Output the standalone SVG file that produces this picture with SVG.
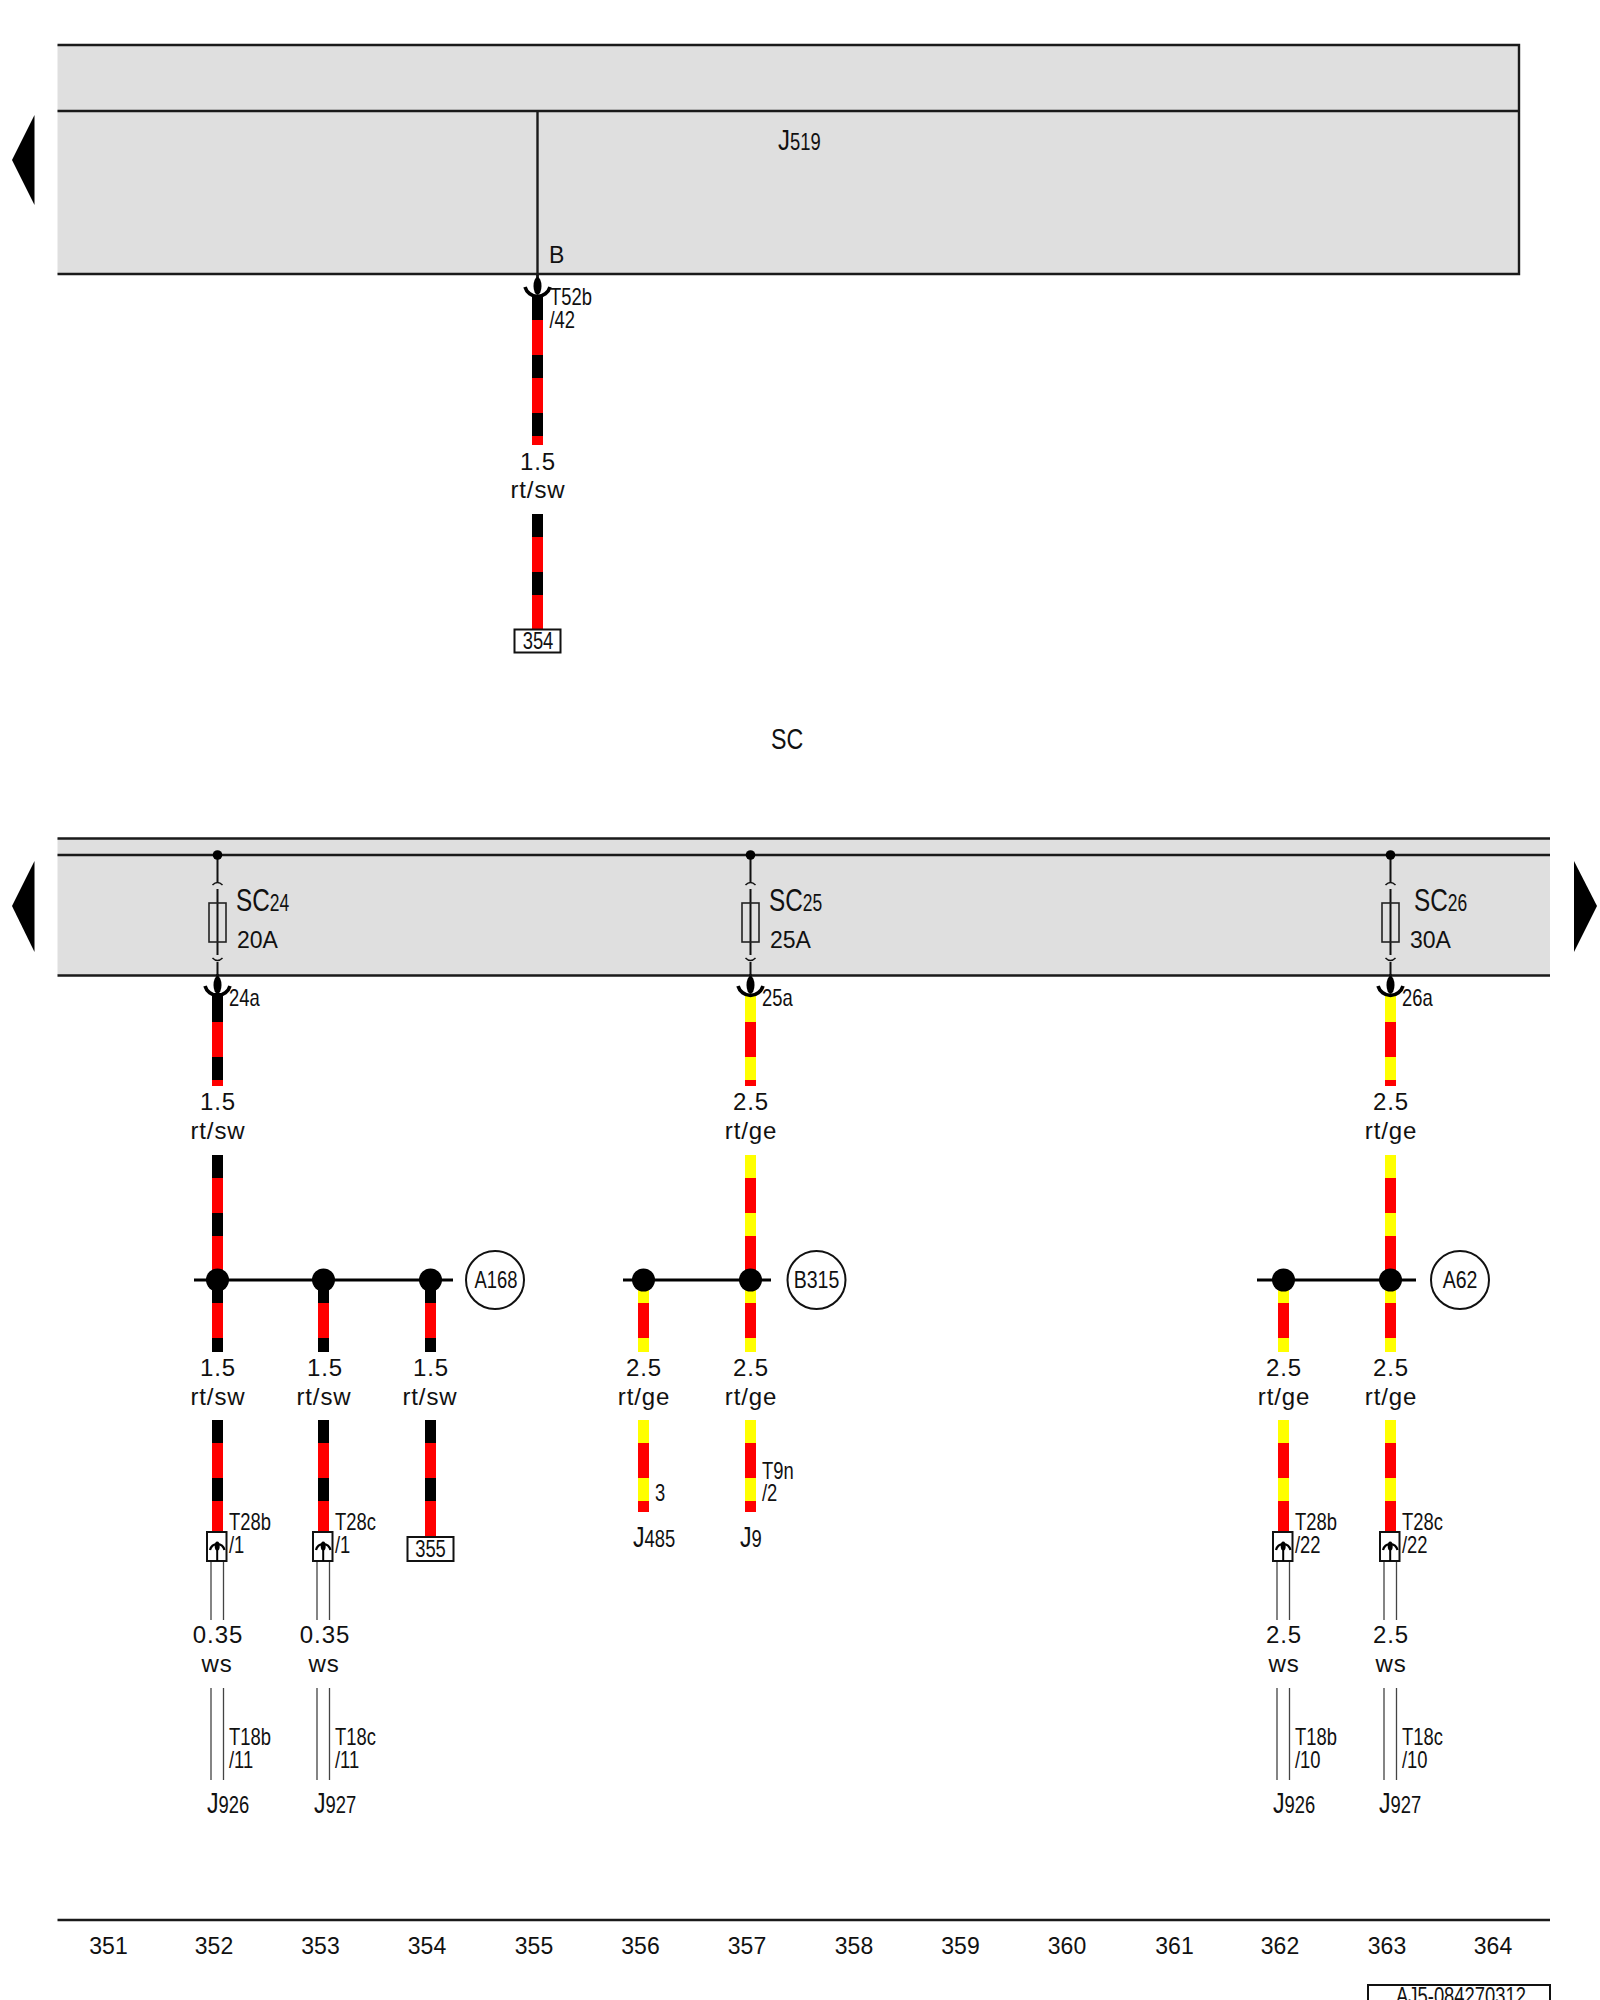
<svg xmlns="http://www.w3.org/2000/svg" xmlns:xlink="http://www.w3.org/1999/xlink" width="1600" height="2000" viewBox="0 0 1600 2000">
<style>
text{font-family:"Liberation Sans",Arial,sans-serif;fill:#111}
.lb{font-size:23px}
.gauge{font-size:24px;letter-spacing:.9px;text-anchor:middle}
.num{font-size:23px;text-anchor:middle}
.cd{font-size:23px}
.sub{font-size:23px}
.big{font-size:32px}
.ln{fill:none;stroke:#1a1a1a;stroke-width:2.4}
.panel{fill:#dfdfdf}
.thin{fill:none;stroke:#444;stroke-width:1.3}
.wire{fill:none;stroke-width:11}
.red{stroke:#f00}
.k{stroke:#000}
.y{stroke:#ff0}
.bx{fill:#fff;stroke:#111;stroke-width:2}
.jn{fill:#000}
.bus{fill:none;stroke:#000;stroke-width:3.2}
.tri{fill:#000}
</style>
<defs>
<g id="conn"><path d="M0 -12V0" fill="none" stroke="#111" stroke-width="2.4"/><ellipse cx="0" cy="-1" rx="4" ry="9" fill="#000"/><path d="M-12.500 0A13 13 0 0 0 12.500 0" fill="none" stroke="#000" stroke-width="3.600"/></g>
<g id="fuse"><path d="M0 857V882M0 889V955M0 962V976" fill="none" stroke="#111" stroke-width="2"/><path d="M-5 885Q0 880 5 885M-5 958Q0 963 5 958" fill="none" stroke="#111" stroke-width="1.5"/><circle cx="0" cy="855" r="4.800" fill="#000"/><rect x="-8.500" y="903" width="17" height="39" fill="none" stroke="#222" stroke-width="1.600"/></g>
<g id="pin"><rect x="-10.500" y="1532" width="19.500" height="29" class="bx"/><path d="M-7.500 1550A7.500 8 0 0 1 7 1550" fill="none" stroke="#000" stroke-width="2.200"/><ellipse cx="-.3" cy="1546" rx="2.500" ry="4.500" fill="#000"/><path d="M-.3 1548V1561" fill="none" stroke="#000" stroke-width="2"/></g>
<g id="thin"><path d="M-6.500 1561V1620M6 1561V1620M-6.500 1688V1780M6 1688V1780" class="thin"/></g>
</defs>

<rect class="panel" x="57.500" y="45" width="1461.500" height="229"/>
<rect class="panel" x="57.500" y="838" width="1492.500" height="137"/>
<polygon id="tri-top" class="tri" points="12,160 34.500,115 34.500,205"/>
<polygon id="tri-left" class="tri" points="12,906 34.500,861 34.500,952"/>
<polygon id="tri-right" class="tri" points="1597,906 1574,861 1574,952"/>

<g id="frames">
<path class="ln" d="M57.500 45H1519V274H57.500M57.500 111H1519"/>
<path class="ln" d="M57.500 838.500H1550M57.500 855H1550M57.500 975.500H1550"/>
<path class="ln" d="M57.500 1920H1550"/>
</g>

<g id="connectors">
<path d="M537.500 111V285" class="ln"/>
<path class="wire red" d="M537.500 298V445M537.500 514V630M217.500 995V1086M217.500 1155V1352M217.500 1420V1533M323.500 1280V1352M323.500 1420V1533M430.500 1280V1352M430.500 1420V1538M643.500 1280V1352M643.500 1420V1512M750.500 995V1086M750.500 1155V1352M750.500 1420V1512M1283.500 1280V1352M1283.500 1420V1533M1390.500 995V1086M1390.500 1155V1352M1390.500 1420V1533"/>
<path class="wire k" d="M537.500 296V320M537.500 355V378M537.500 413V436M537.500 514V537M537.500 572V595M217.500 993V1022M217.500 1057V1080M217.500 1155V1178M217.500 1213V1236M217.500 1280V1303M217.500 1338V1352M217.500 1420V1443M217.500 1478V1501M323.500 1280V1303M323.500 1338V1352M323.500 1420V1443M323.500 1478V1501M430.500 1280V1303M430.500 1338V1352M430.500 1420V1443M430.500 1478V1501"/>
<path class="wire y" d="M643.500 1280V1303M643.500 1338V1352M643.500 1420V1443M643.500 1478V1501M750.500 995V1022M750.500 1057V1080M750.500 1155V1178M750.500 1213V1236M750.500 1280V1303M750.500 1338V1352M750.500 1420V1443M750.500 1478V1501M1283.500 1280V1303M1283.500 1338V1352M1283.500 1420V1443M1283.500 1478V1501M1390.500 995V1022M1390.500 1057V1080M1390.500 1155V1178M1390.500 1213V1236M1390.500 1280V1303M1390.500 1338V1352M1390.500 1420V1443M1390.500 1478V1501"/>
<path class="bus" d="M194 1280H453M623 1280H771M1257 1280H1416"/>
<use xlink:href="#thin" href="#thin" x="217.500"/>
<use xlink:href="#thin" href="#thin" x="323.500"/>
<use xlink:href="#thin" href="#thin" x="1283.500"/>
<use xlink:href="#thin" href="#thin" x="1390.500"/>
</g>

<g id="J519"><text transform="translate(778,150) scale(.8,1)" style="font-size:30px">J<tspan class="sub">519</tspan></text></g>
<g id="pin-B"><use href="#conn" x="537.500" y="287"/><text class="lb" x="549" y="263">B</text></g>
<g id="T52b"><text class="cd" transform="translate(550,305) scale(.8,1)">T52b</text><text class="cd" transform="translate(549.500,328) scale(.8,1)">/42</text></g>
<g id="label-top1"><text class="gauge" x="538" y="470">1.5</text><text class="gauge" x="538" y="498">rt/sw</text></g>
<g id="ref-354"><rect class="bx" x="514.500" y="629.500" width="46" height="23"/><text class="num" transform="translate(538,649) scale(.8,1)">354</text></g>
<g id="SC-title"><text transform="translate(771,749) scale(.8,1)" style="font-size:29px">SC</text></g>

<g id="SC24"><use href="#fuse" x="217.500"/><use href="#conn" x="217.500" y="986"/><text transform="translate(236,911) scale(.76,1)" class="big">SC<tspan class="sub">24</tspan></text><text class="lb" x="237" y="948">20A</text><text class="cd" transform="translate(229,1006) scale(.8,1)">24a</text></g>
<g id="SC25"><use href="#fuse" x="750.500"/><use href="#conn" x="750.500" y="986"/><text transform="translate(769,911) scale(.76,1)" class="big">SC<tspan class="sub">25</tspan></text><text class="lb" x="770" y="948">25A</text><text class="cd" transform="translate(762,1006) scale(.8,1)">25a</text></g>
<g id="SC26"><use href="#fuse" x="1390.500"/><use href="#conn" x="1390.500" y="986"/><text transform="translate(1414,911) scale(.76,1)" class="big">SC<tspan class="sub">26</tspan></text><text class="lb" x="1410" y="948">30A</text><text class="cd" transform="translate(1402,1006) scale(.8,1)">26a</text></g>

<g id="labels-upper">
<text class="gauge" x="218" y="1110">1.5</text><text class="gauge" x="218" y="1139">rt/sw</text>
<text class="gauge" x="751" y="1110">2.5</text><text class="gauge" x="751" y="1139">rt/ge</text>
<text class="gauge" x="1391" y="1110">2.5</text><text class="gauge" x="1391" y="1139">rt/ge</text>
</g>

<g id="A168"><circle cx="217.500" cy="1280" r="11.500" class="jn"/><circle cx="323.500" cy="1280" r="11.500" class="jn"/><circle cx="430.500" cy="1280" r="11.500" class="jn"/><circle cx="495" cy="1280" r="29" class="bx"/><text class="num" transform="translate(496,1288) scale(.8,1)">A168</text></g>
<g id="B315"><circle cx="643.500" cy="1280" r="11.500" class="jn"/><circle cx="750.500" cy="1280" r="11.500" class="jn"/><circle cx="816.500" cy="1280" r="29" class="bx"/><text class="num" transform="translate(816.500,1288) scale(.85,1)">B315</text></g>
<g id="A62"><circle cx="1283.500" cy="1280" r="11.500" class="jn"/><circle cx="1390.500" cy="1280" r="11.500" class="jn"/><circle cx="1460" cy="1280" r="29" class="bx"/><text class="num" transform="translate(1460,1288) scale(.85,1)">A62</text></g>

<g id="labels-mid">
<text class="gauge" x="218" y="1376">1.5</text><text class="gauge" x="218" y="1405">rt/sw</text>
<text class="gauge" x="325" y="1376">1.5</text><text class="gauge" x="324" y="1405">rt/sw</text>
<text class="gauge" x="431" y="1376">1.5</text><text class="gauge" x="430" y="1405">rt/sw</text>
<text class="gauge" x="644" y="1376">2.5</text><text class="gauge" x="644" y="1405">rt/ge</text>
<text class="gauge" x="751" y="1376">2.5</text><text class="gauge" x="751" y="1405">rt/ge</text>
<text class="gauge" x="1284" y="1376">2.5</text><text class="gauge" x="1284" y="1405">rt/ge</text>
<text class="gauge" x="1391" y="1376">2.5</text><text class="gauge" x="1391" y="1405">rt/ge</text>
</g>

<g id="T28b-1"><use href="#pin" x="217.500"/><text class="cd" transform="translate(229,1530) scale(.8,1)">T28b</text><text class="cd" transform="translate(229,1553) scale(.8,1)">/1</text></g>
<g id="T28c-1"><use href="#pin" x="323.500"/><text class="cd" transform="translate(335,1530) scale(.8,1)">T28c</text><text class="cd" transform="translate(335,1553) scale(.8,1)">/1</text></g>
<g id="ref-355"><rect class="bx" x="407.500" y="1537" width="46" height="24"/><text class="num" transform="translate(430.500,1557) scale(.8,1)">355</text></g>
<g id="pin-3"><text class="cd" transform="translate(655,1501) scale(.8,1)">3</text></g>
<g id="T9n"><text class="cd" transform="translate(762,1479) scale(.8,1)">T9n</text><text class="cd" transform="translate(762,1501) scale(.8,1)">/2</text></g>
<g id="J485"><text transform="translate(633,1547) scale(.8,1)" style="font-size:29px">J<tspan class="sub">485</tspan></text></g>
<g id="J9"><text transform="translate(740,1547) scale(.8,1)" style="font-size:29px">J<tspan class="sub">9</tspan></text></g>
<g id="T28b-22"><use href="#pin" x="1283.500"/><text class="cd" transform="translate(1295,1530) scale(.8,1)">T28b</text><text class="cd" transform="translate(1295,1553) scale(.8,1)">/22</text></g>
<g id="T28c-22"><use href="#pin" x="1390.500"/><text class="cd" transform="translate(1402,1530) scale(.8,1)">T28c</text><text class="cd" transform="translate(1402,1553) scale(.8,1)">/22</text></g>

<g id="labels-low">
<text class="gauge" x="218" y="1643">0.35</text><text class="gauge" x="217" y="1672">ws</text>
<text class="gauge" x="325" y="1643">0.35</text><text class="gauge" x="324" y="1672">ws</text>
<text class="gauge" x="1284" y="1643">2.5</text><text class="gauge" x="1284" y="1672">ws</text>
<text class="gauge" x="1391" y="1643">2.5</text><text class="gauge" x="1391" y="1672">ws</text>
</g>

<g id="T18-1"><text class="cd" transform="translate(229,1745) scale(.8,1)">T18b</text><text class="cd" transform="translate(229,1768) scale(.8,1)">/11</text></g>
<g id="T18-2"><text class="cd" transform="translate(335,1745) scale(.8,1)">T18c</text><text class="cd" transform="translate(335,1768) scale(.8,1)">/11</text></g>
<g id="T18-3"><text class="cd" transform="translate(1295,1745) scale(.8,1)">T18b</text><text class="cd" transform="translate(1295,1768) scale(.8,1)">/10</text></g>
<g id="T18-4"><text class="cd" transform="translate(1402,1745) scale(.8,1)">T18c</text><text class="cd" transform="translate(1402,1768) scale(.8,1)">/10</text></g>
<g id="J926-1"><text transform="translate(207,1813) scale(.8,1)" style="font-size:29px">J<tspan class="sub">926</tspan></text></g>
<g id="J927-1"><text transform="translate(314,1813) scale(.8,1)" style="font-size:29px">J<tspan class="sub">927</tspan></text></g>
<g id="J926-2"><text transform="translate(1273,1813) scale(.8,1)" style="font-size:29px">J<tspan class="sub">926</tspan></text></g>
<g id="J927-2"><text transform="translate(1379,1813) scale(.8,1)" style="font-size:29px">J<tspan class="sub">927</tspan></text></g>

<g id="ruler">
<text class="num" x="108.500" y="1954">351</text><text class="num" x="214" y="1954">352</text><text class="num" x="320.500" y="1954">353</text><text class="num" x="427" y="1954">354</text><text class="num" x="534" y="1954">355</text><text class="num" x="640.500" y="1954">356</text><text class="num" x="747" y="1954">357</text><text class="num" x="854" y="1954">358</text><text class="num" x="960.500" y="1954">359</text><text class="num" x="1067" y="1954">360</text><text class="num" x="1174.500" y="1954">361</text><text class="num" x="1280" y="1954">362</text><text class="num" x="1387" y="1954">363</text><text class="num" x="1493" y="1954">364</text>
</g>
<g id="docref"><rect x="1368" y="1985" width="182" height="30" fill="#fff" stroke="#111" stroke-width="2"/><text class="num" transform="translate(1461,2004) scale(.8,1)">AJ5-084270312</text></g>
</svg>
